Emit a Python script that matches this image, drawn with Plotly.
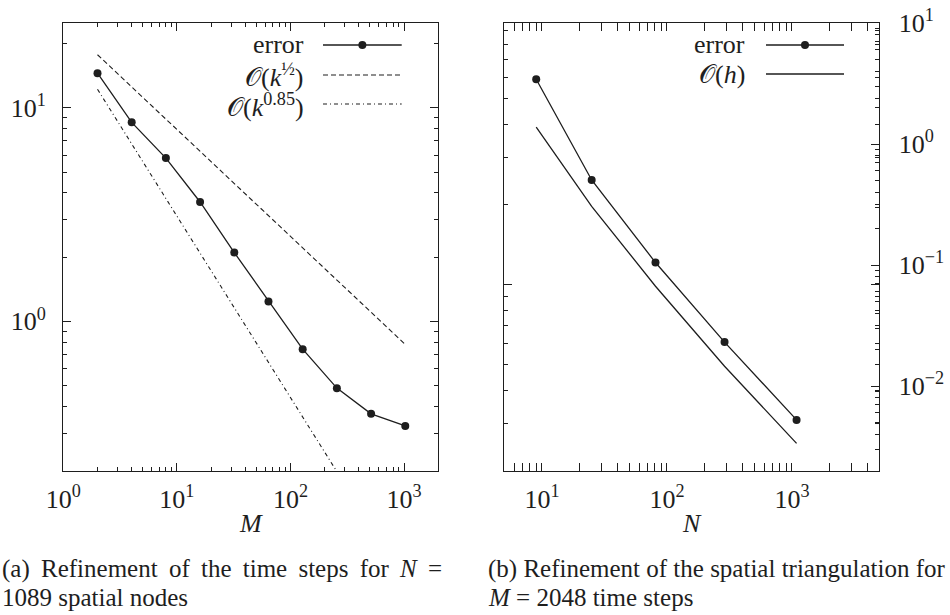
import numpy as np
import plotly.graph_objects as go

# ---------------- data ----------------
# (a) refinement of the time steps (N = 1089)
M_steps = [2, 4, 8, 16, 32, 64, 128, 256, 512, 1024]
err_time = [14.5, 8.54, 5.81, 3.62, 2.10, 1.24, 0.741, 0.487, 0.369, 0.324]
ref_half = [17.7, 12.5, 8.84, 6.25, 4.42, 3.13, 2.21, 1.56, 1.10, 0.78]
ref_085 = [12.2, 6.77, 3.76, 2.09, 1.16, 0.643, 0.357, 0.198, 0.110, 0.061]

# (b) refinement of the spatial triangulation (M = 2048)
N_nodes = [9, 25, 81, 289, 1089]
err_space = [3.43, 0.505, 0.105, 0.0231, 0.00526]
ref_h = [1.38, 0.306, 0.0669, 0.0146, 0.00336]

xticks_a = [1, 10, 100, 1000]
xlabels_a = ["10<sup>0</sup>", "10<sup>1</sup>", "10<sup>2</sup>", "10<sup>3</sup>"]
yticks_a = [1, 10]
ylabels_a = ["10<sup>0</sup>", "10<sup>1</sup>"]
xticks_b = [10, 100, 1000]
xlabels_b = ["10<sup>1</sup>", "10<sup>2</sup>", "10<sup>3</sup>"]
yticks_b = [0.01, 0.1, 1, 10]
ylabels_b = ["10<sup>\u22122</sup>", "10<sup>\u22121</sup>", "10<sup>0</sup>", "10<sup>1</sup>"]

# ---------------- styling ----------------
W, H = 950, 615
INK = "#1e1e1e"
FONT = "Liberation Serif"
FS = 26


def px(x):
    return x / W


def py(y):
    return 1 - y / H


def minor_vals(e0, e1):
    return [d * 10.0 ** e for e in range(e0, e1) for d in range(2, 10)]


def log_axis(rng, domain, **kw):
    d = dict(
        type="log", range=rng, domain=domain,
        showline=True, linecolor=INK, linewidth=1.3,
        ticks="inside", ticklen=8, tickwidth=1.1, tickcolor=INK,
        showgrid=False, zeroline=False,
        tickfont=dict(family=FONT, size=FS, color=INK),
    )
    d.update(kw)
    return d


fig = go.Figure()

# (a)
fig.add_trace(go.Scatter(x=M_steps, y=err_time, mode="lines+markers",
                         line=dict(color=INK, width=1.3), marker=dict(size=8, color=INK),
                         xaxis="x", yaxis="y", showlegend=False))
fig.add_trace(go.Scatter(x=M_steps, y=ref_half, mode="lines",
                         line=dict(color=INK, width=1.1, dash="5px,3px"),
                         xaxis="x", yaxis="y", showlegend=False))
fig.add_trace(go.Scatter(x=M_steps, y=ref_085, mode="lines",
                         line=dict(color=INK, width=1.1, dash="4px,3px,1px,3px"),
                         xaxis="x", yaxis="y", showlegend=False))
# (b)
fig.add_trace(go.Scatter(x=[None], y=[None], xaxis="x2", yaxis="y2",
                         showlegend=False, hoverinfo="skip"))
fig.add_trace(go.Scatter(x=N_nodes, y=err_space, mode="lines+markers",
                         line=dict(color=INK, width=1.3), marker=dict(size=8, color=INK),
                         xaxis="x2", yaxis="y3", showlegend=False))
fig.add_trace(go.Scatter(x=N_nodes, y=ref_h, mode="lines",
                         line=dict(color=INK, width=1.3),
                         xaxis="x2", yaxis="y3", showlegend=False))

ydom = [py(470.7), py(22.7)]
minor_std = dict(ticks="inside", ticklen=4, tickwidth=1.0, tickcolor=INK, showgrid=False)

fig.update_layout(
    width=W, height=H, margin=dict(l=0, r=0, t=0, b=0, autoexpand=False),
    paper_bgcolor="white", plot_bgcolor="white", showlegend=False,
    xaxis=log_axis([0, np.log10(2000)], [px(63.3), px(438.3)], anchor="y",
                   mirror="allticks", tickvals=xticks_a, ticktext=xlabels_a,
                   ticklabelstandoff=5,
                   minor=dict(tickvals=minor_vals(0, 4), **minor_std)),
    yaxis=log_axis([np.log10(0.2), np.log10(25)], ydom, anchor="x",
                   mirror="allticks", tickvals=yticks_a, ticktext=ylabels_a,
                   ticklabelstandoff=11,
                   minor=dict(tickvals=minor_vals(-1, 2), **minor_std)),
    xaxis2=log_axis([np.log10(5), np.log10(5000)], [px(504.3), px(879.3)], anchor="y2",
                    mirror="allticks", tickvals=xticks_b, ticktext=xlabels_b,
                    ticklabelstandoff=5,
                    minor=dict(tickvals=minor_vals(0, 4), **minor_std)),
    yaxis2=log_axis([np.log10(0.2), 0.985], ydom, anchor="x2",
                    mirror="allticks", tickvals=[1], showticklabels=False,
                    minor=dict(tickvals=minor_vals(-1, 1), **minor_std)),
    yaxis3=log_axis([np.log10(0.002), 1.003], ydom, anchor="x2", overlaying="y2",
                    side="right", tickvals=yticks_b, ticktext=ylabels_b,
                    ticklabelstandoff=13,
                    minor=dict(tickvals=minor_vals(-3, 1), **minor_std)),
)

# ---------------- legends (drawn as keys) ----------------
shapes = []
ann = []


def text(x, y, s, anchor="right", size=FS):
    ann.append(dict(x=px(x), y=py(y), xref="paper", yref="paper", text=s,
                    showarrow=False, xanchor=anchor, yanchor="middle",
                    font=dict(family=FONT, size=size, color=INK)))


def key_line(x0, x1, y, dash="solid", width=1.3, dot=False):
    shapes.append(dict(type="line", xref="paper", yref="paper",
                       x0=px(x0), x1=px(x1), y0=py(y), y1=py(y),
                       line=dict(color=INK, width=width, dash=dash)))
    if dot:
        xc = (x0 + x1) / 2
        shapes.append(dict(type="circle", xref="paper", yref="paper",
                           x0=px(xc - 4), x1=px(xc + 4), y0=py(y - 4), y1=py(y + 4),
                           fillcolor=INK, line=dict(color=INK, width=0)))


text(306, 45, "error")
text(306, 76, "\U0001D4AA(<i>k</i><sup>\u00bd</sup>)")
text(306, 105, "\U0001D4AA(<i>k</i><sup>0.85</sup>)")
key_line(323, 401.7, 45, dot=True)
key_line(323, 401.7, 75, dash="5px,3px", width=1.1)
key_line(323, 401.7, 104, dash="4px,3px,1px,3px", width=1.1)

text(747, 45, "error")
text(747, 74, "\U0001D4AA(<i>h</i>)")
key_line(766, 844, 45, dot=True)
key_line(766, 844, 74)

# axis titles
text(251, 523, "<i>M</i>", anchor="center")
text(692, 523, "<i>N</i>", anchor="center")

# captions (first line of (a) is justified in the original, hence the wider gaps)
CS = 25
cap_a1 = " \u2009".join(["(a)", "Refinement", "of", "the", "time", "steps", "for", "<i>N</i>", "="])
text(0, 569, cap_a1, anchor="left", size=CS)
text(0, 597, "1089 spatial nodes", anchor="left", size=CS)
text(486, 569, "(b) Refinement of the spatial triangulation for", anchor="left", size=CS)
text(486, 597, "<i>M</i> = 2048 time steps", anchor="left", size=CS)

fig.update_layout(shapes=shapes, annotations=ann)
# remove the default 8px page margin so the figure sits at the window's corner
fig.write_html("out.html", config={"displayModeBar": False},
               post_script="document.body.style.margin='0';")
